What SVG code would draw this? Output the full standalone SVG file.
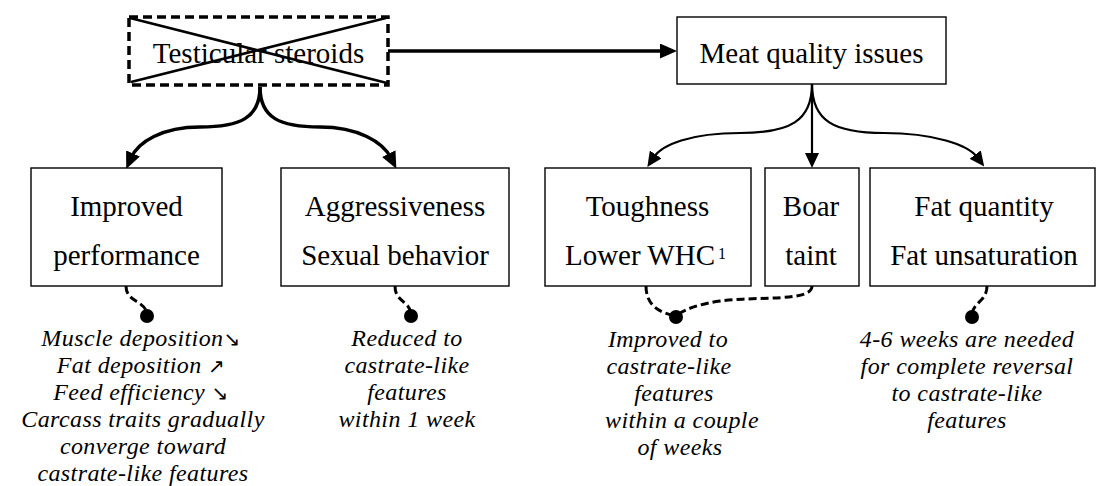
<svg xmlns="http://www.w3.org/2000/svg" width="1099" height="486" viewBox="0 0 1099 486">
<style>
.box{fill:#fff;stroke:#000;stroke-width:1.4}
.dbox{fill:#fff;stroke:#000;stroke-width:3.5;stroke-dasharray:9,5}
.t{font-family:'Liberation Serif','Times New Roman',serif;font-size:29px;fill:#000;text-anchor:middle}
.it{font-family:'Liberation Serif','Times New Roman',serif;font-size:24px;font-style:italic;fill:#000;text-anchor:middle;letter-spacing:0.4px}
.sup{font-family:'Liberation Serif','Times New Roman',serif;font-size:16px;fill:#000}
.arr{font-family:'DejaVu Sans',sans-serif;font-style:normal;font-size:20px}
.thick{fill:none;stroke:#000;stroke-width:3.5}
.thin{fill:none;stroke:#000;stroke-width:2.2}
.dash{fill:none;stroke:#000;stroke-width:3;stroke-dasharray:8,4}
</style>
<defs>
<marker id="ah" markerWidth="17" markerHeight="15" refX="5" refY="7.5" orient="auto" markerUnits="userSpaceOnUse"><path d="M0,0 L17,7.5 L0,15 z" fill="#000"/></marker>
<marker id="ah2" markerWidth="15" markerHeight="14" refX="3" refY="7" orient="auto" markerUnits="userSpaceOnUse"><path d="M0,0 L15,7 L0,14 z" fill="#000"/></marker>
</defs>
<g id="connectors">
<path class="thick" d="M388,51 L665,51" marker-end="url(#ah)"/>
<path class="thick" d="M260,87 C260,118 240,127 200,127 C162,127 138,142 131,158" marker-end="url(#ah)"/>
<path class="thick" d="M260,87 C260,118 280,127 320,127 C358,127 383,142 391,158" marker-end="url(#ah)"/>
<path class="thin" d="M812,84 C812,121 790,133 740,133 C690,133 662,145 654,157" marker-end="url(#ah2)"/>
<path class="thin" d="M812,84 L812,156" marker-end="url(#ah2)"/>
<path class="thin" d="M812,84 C812,121 834,133 884,133 C934,133 968,145 977,157" marker-end="url(#ah2)"/>
<path class="dash" d="M126,286 C126,303 147,300 147,316"/>
<path class="dash" d="M395,286 C395,303 411,300 411,316"/>
<path class="dash" d="M646,286 C646,306 660,313 676,316"/>
<path class="dash" d="M812,286 C812,302 760,296 720,301 C700,304 684,309 676,316"/>
<path class="dash" d="M987,286 C987,302 972,302 972,316"/>
<circle cx="147" cy="316" r="7"/>
<circle cx="411" cy="316" r="7"/>
<circle cx="676" cy="317" r="7"/>
<circle cx="972" cy="317" r="7"/>
</g>
<g id="testicular">
<rect class="dbox" x="129" y="17" width="259" height="68"/>
<text class="t" x="258.5" y="63">Testicular steroids</text>
<line x1="130" y1="18" x2="387" y2="83" stroke="#000" stroke-width="2.5"/>
<line x1="131" y1="82" x2="386" y2="18" stroke="#000" stroke-width="2.5"/>
</g>
<g id="meat">
<rect class="box" x="677" y="17" width="269" height="67"/>
<text class="t" x="811.5" y="63">Meat quality issues</text>
</g>
<g id="improved">
<rect class="box" x="31" y="168" width="191" height="118"/>
<text class="t" x="126.5" y="216">Improved</text>
<text class="t" x="126.5" y="265">performance</text>
</g>
<g id="aggr">
<rect class="box" x="281" y="168" width="228" height="118"/>
<text class="t" x="395" y="216">Aggressiveness</text>
<text class="t" x="395" y="265">Sexual behavior</text>
</g>
<g id="tough">
<rect class="box" x="545" y="168" width="206" height="118"/>
<text class="t" x="647.5" y="216">Toughness</text>
<text class="t" x="640" y="265">Lower WHC</text>
<text class="sup" x="718" y="259">1</text>
</g>
<g id="boar">
<rect class="box" x="765" y="168" width="94" height="118"/>
<text class="t" x="811" y="216">Boar</text>
<text class="t" x="811" y="265">taint</text>
</g>
<g id="fat">
<rect class="box" x="870" y="168" width="225" height="118"/>
<text class="t" x="984" y="216">Fat quantity</text>
<text class="t" x="984" y="265">Fat unsaturation</text>
</g>
<g id="note-perf">
<text class="it" x="141" y="346">Muscle deposition<tspan class="arr">↘</tspan></text>
<text class="it" x="141" y="373">Fat deposition <tspan class="arr">↗</tspan></text>
<text class="it" x="141" y="400">Feed efficiency <tspan class="arr">↘</tspan></text>
<text class="it" x="143" y="427">Carcass traits gradually</text>
<text class="it" x="143" y="454">converge toward</text>
<text class="it" x="143" y="481">castrate-like features</text>
</g>
<g id="note-aggr">
<text class="it" x="407" y="346">Reduced to</text>
<text class="it" x="407" y="373">castrate-like</text>
<text class="it" x="407" y="400">features</text>
<text class="it" x="407" y="427">within 1 week</text>
</g>
<g id="note-meat">
<text class="it" x="668" y="347">Improved to</text>
<text class="it" x="669" y="374">castrate-like</text>
<text class="it" x="674" y="401">features</text>
<text class="it" x="682" y="428">within a couple</text>
<text class="it" x="680" y="455">of weeks</text>
</g>
<g id="note-fat">
<text class="it" x="967" y="347">4-6 weeks are needed</text>
<text class="it" x="967" y="374">for complete reversal</text>
<text class="it" x="967" y="401">to castrate-like</text>
<text class="it" x="967" y="428">features</text>
</g>
</svg>
